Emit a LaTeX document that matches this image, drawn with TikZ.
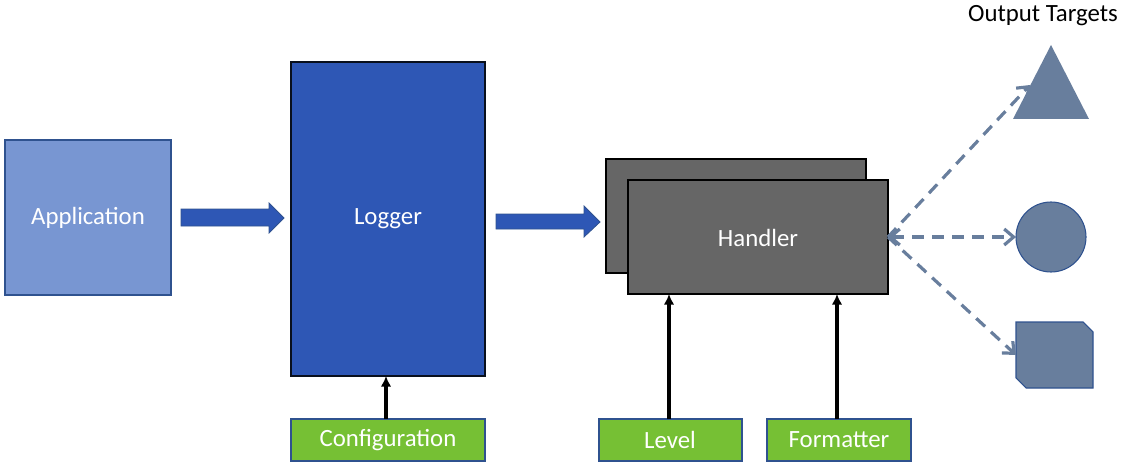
\documentclass[tikz,border=0pt]{standalone}
\usepackage{fontspec}
\setmainfont{Carlito}
\usetikzlibrary{arrows.meta}
\definecolor{appblue}{RGB}{120,150,210}
\definecolor{logblue}{RGB}{46,87,181}
\definecolor{edgeblue}{RGB}{47,82,143}
\definecolor{hgray}{RGB}{102,102,102}
\definecolor{cgreen}{RGB}{118,192,52}
\definecolor{tgray}{RGB}{104,126,157}
\tikzset{
  lbl/.style={text=white, font=\fontsize{18.6}{21}\selectfont},
  box/.style={lbl, draw=edgeblue, line width=0.9pt, inner sep=0pt, outer sep=0pt},
  greenbox/.style={box, fill=cgreen, minimum height=42*0.75pt},
  handbox/.style={lbl, draw=black, line width=1pt, fill=hgray, inner sep=0pt, outer sep=0pt, minimum width=260*0.75pt, minimum height=114*0.75pt},
  blockarrow/.style={fill=logblue, draw=edgeblue, line width=0.6pt},
  feed/.style={draw=black, line width=2.4pt, -{Latex[length=8pt,width=8pt]}},
  target/.style={draw=tgray, line width=2.4pt, dash pattern=on 9pt off 6pt, -{Straight Barb[length=7pt,width=12pt]}},
  target2/.style={target, {Straight Barb[length=7pt,width=12pt]}-{Straight Barb[length=7pt,width=12pt]}},
}
\begin{document}
\begin{tikzpicture}[x=0.75pt,y=-0.75pt]
\useasboundingbox (0,0) rectangle (1122,467);
% Application
\node[box, fill=appblue, minimum width=166*0.75pt, minimum height=155*0.75pt, anchor=north west] (app) at (5,140) {};
\node[lbl] (apptext) at (88,218) {Application};
% Logger
\node[box, draw=black!80!edgeblue, fill=logblue, minimum width=194*0.75pt, minimum height=314*0.75pt, anchor=north west] (logger) at (291,62) {};
\node[lbl] (loggertext) at (388,219) {Logger};
% Block arrows
\draw[blockarrow] (181,209) -- (269,209) -- (269,203) -- (284,218) -- (269,233) -- (269,226) -- (181,226) -- cycle;
\draw[blockarrow] (496,214) -- (584,214) -- (584,206) -- (600,222) -- (584,237) -- (584,229) -- (496,229) -- cycle;
% Handler
\node[handbox, anchor=north west] (hback) at (606,159) {};
\node[handbox, anchor=north west] (handler) at (628,180) {};
\node[lbl] (htext) at (758,238) {Handler};
% Green boxes
\node[greenbox, minimum width=194*0.75pt, anchor=north west] (config) at (291,419) {};
\node[lbl] (ctext) at (388,440) {Configuration};
\node[greenbox, minimum width=143*0.75pt, anchor=north west] (level) at (599,419) {};
\node[lbl] (ltext) at (670,440) {Level};
\node[greenbox, minimum width=144*0.75pt, anchor=north west] (fmt) at (767,419) {};
\node[lbl] (ftext) at (839,440) {Formatter};
% feed arrows
\draw[feed] (config.north -| 386,0) -- (logger.south -| 386,0);
\draw[feed] (level.north -| 669,0) -- (handler.south -| 669,0);
\draw[feed] (fmt.north -| 837,0) -- (handler.south -| 837,0);
% Targets
\node[font=\fontsize{18.6}{21}\selectfont, text=black] (ttl) at (1043,16) {Output Targets};
\fill[tgray] (1051,45) -- (1089,119) -- (1013,119) -- cycle;
\coordinate (tri) at (1030,85);
\node[circle, fill=tgray, draw=edgeblue, line width=0.8pt, minimum size=70*0.75pt, inner sep=0pt, outer sep=0pt] (circ) at (1051,237) {};
\draw[fill=tgray, draw=edgeblue, line width=0.8pt] (1016,322) -- (1083,322) -- (1093,332) -- (1093,388) -- (1026,388) -- (1016,378) -- cycle;
\coordinate (sq) at (1016,355);
\coordinate (hout) at (888,237);
\draw[target] (hout) -- (tri);
\draw[target2] (hout) -- (circ.west);
\draw[target] (hout) -- (sq);
\end{tikzpicture}
\end{document}
